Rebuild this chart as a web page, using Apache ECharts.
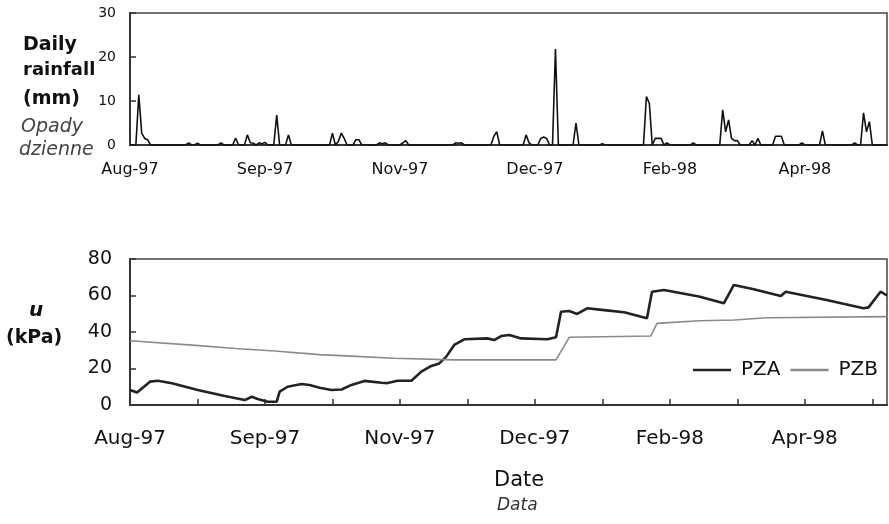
<!DOCTYPE html>
<html><head><meta charset="utf-8">
<script src="https://cdn.jsdelivr.net/npm/echarts@6/dist/echarts.min.js"></script>
<style>html,body{margin:0;padding:0;background:#fff}#c{width:889px;height:524px}</style>
</head><body><div id="c"></div>
<script>
// x values are day index from start of record (Aug-97); ticks every 23 days
const tickLabels = ['Aug-97','','Sep-97','','Nov-97','','Dec-97','','Feb-98','','Apr-98',''];

// Daily rainfall (mm)
const rainDay = [0,2,3,4,5,6,7,19,20,21,22,23,24,30,31,32,35,36,37,39,40,41,42,43,44,45,46,47,49,50,51,53,54,55,
  68,69,70,71,72,73,74,76,77,78,79,84,85,86,87,88,92,93,94,95,110,111,112,113,114,123,124,125,126,
  134,135,136,137,139,140,141,142,143,144,145,146,151,152,153,160,161,162,
  175,176,177,178,179,180,181,182,183,184,191,192,193,201,202,203,204,205,206,207,208,
  211,212,213,214,215,219,220,221,222,223,228,229,230,235,236,237,246,247,248,249,250,251,252,253,258];
const rainMm = [0,0,11.4,2.7,1.5,1.2,0,0,0.5,0,0,0.4,0,0,0.5,0,0,1.6,0,0,2.3,0.5,0.4,0,0.5,0.3,0.6,0,0,6.8,0,0,2.3,0,
  0,2.7,0,0.8,2.7,1.5,0,0,1.2,1.2,0,0,0.5,0.3,0.5,0,0,0.5,1,0,0,0.5,0.4,0.5,0,0,2,3,0,
  0,2.3,0.5,0,0,1.5,1.8,1.5,0,0,21.8,0,0,5,0,0,0.3,0,
  0,11,9.5,0,1.5,1.5,1.5,0,0.5,0,0,0.5,0,0,8,3,5.7,1.5,1,1,0,
  0,1,0,1.5,0,0,2,2,2,0,0,0.5,0,0,3.2,0,0,0.5,0,0,7.3,3,5.3,0,0];

// Pore water pressure u (kPa)
const pzaDay = [0,2.4,6.8,9.5,14.3,23.1,32.3,39.1,41.5,43.5,46.9,50,51,53.7,58.5,61.2,64.6,68.7,72.1,75.5,79.9,85.7,87.8,91.2,95.9,
  99.3,102.7,105.4,107.8,110.5,113.9,121.8,124.1,126.5,129.3,133.3,142.2,145.2,146.9,149.7,152.4,155.8,161.6,168.4,176.2,
  177.9,182,193.9,202.4,205.8,212.6,221.8,223.5,237.4,250,251.7,255.8,258];
const pzaKpa = [8.2,6.8,12.8,13.3,11.9,8.2,4.9,2.7,4.5,3.3,1.8,1.8,7.3,10,11.5,11,9.5,8.2,8.5,11,13.2,12.2,12,13.3,13.3,
  18.3,21.4,22.8,26.5,32.9,36,36.5,35.6,37.8,38.4,36.5,36,37.1,51.1,51.5,49.9,53,52,50.8,47.5,
  62.1,63,59.4,55.7,65.8,63.4,59.7,62.1,57.5,53,53.5,62.1,60];
const pzbDay = [0,21.2,36,49.3,64.6,75.5,90,110.5,145.2,149.7,177.5,179.6,194,206,217,258];
const pzbKpa = [35.2,32.8,31,29.6,27.6,26.8,25.6,24.7,24.7,37.1,37.8,44.7,46.2,46.6,47.8,48.4];

const zip = (a,b) => a.map((v,i)=>[v,b[i]]);
const FONT = 'DejaVu Sans';
const ink = '#111';

function xAxis(gridIndex, margin, ticks, fs){
  return {
    type:'value', gridIndex, min:0, max:258, interval:23,
    axisLine:{show:true, onZero:false, lineStyle:{color:'#333', width:2}},
    axisTick:{show:ticks, inside:true, length:6, lineStyle:{color:'#333', width:1.5}},
    splitLine:{show:false},
    axisLabel:{margin, fontFamily:FONT, fontSize:fs, color:ink, showMaxLabel:false,
      formatter: v => (v % 23 === 0 ? (tickLabels[v/23] || '') : '')}
  };
}
function yAxis(gridIndex, max, interval, fs, margin){
  return {
    type:'value', gridIndex, min:0, max, interval,
    axisLine:{show:true, lineStyle:{color:'#333', width:2}},
    axisTick:{show:true, inside:true, length:6, lineStyle:{color:'#333', width:1.5}},
    splitLine:{show:false},
    axisLabel:{margin, fontFamily:FONT, fontSize:fs, color:ink}
  };
}

const chart = echarts.init(document.getElementById('c'));
chart.setOption({
  animation:false,
  backgroundColor:'#fff',
  grid:[
    {left:130, top:13, width:757, height:132, show:true, borderColor:'#444', borderWidth:1.5, backgroundColor:'transparent'},
    {left:130, top:259, width:757, height:146, show:true, borderColor:'#444', borderWidth:1.5, backgroundColor:'transparent'}
  ],
  xAxis:[ xAxis(0, 17, false, 16), xAxis(1, 24, true, 20) ],
  yAxis:[ yAxis(0, 30, 10, 14, 14), yAxis(1, 80, 20, 19, 18) ],
  legend:{
    left:688, top:355, itemWidth:38, itemHeight:2.5, itemGap:10, icon:'rect',
    textStyle:{fontFamily:FONT, fontSize:20, color:ink, padding:[0,0,0,5]},
    data:['PZA','PZB']
  },
  series:[
    {name:'Rain', type:'line', xAxisIndex:0, yAxisIndex:0, data:zip(rainDay, rainMm),
      showSymbol:false, lineStyle:{color:'#111', width:1.6}, itemStyle:{color:'#111'}},
    {name:'PZA', type:'line', xAxisIndex:1, yAxisIndex:1, data:zip(pzaDay, pzaKpa),
      showSymbol:false, lineStyle:{color:'#222', width:2.6}, itemStyle:{color:'#222'}},
    {name:'PZB', type:'line', xAxisIndex:1, yAxisIndex:1, data:zip(pzbDay, pzbKpa),
      showSymbol:false, lineStyle:{color:'#8a8a8a', width:1.6}, itemStyle:{color:'#8a8a8a'}}
  ],
  graphic:[
    {type:'text', left:23, top:36, style:{text:'Daily', font:'bold 19px "DejaVu Sans"', fill:ink}},
    {type:'text', left:23, top:61, style:{text:'rainfall', font:'bold 18px "DejaVu Sans"', fill:ink}},
    {type:'text', left:23, top:90, style:{text:'(mm)', font:'bold 19px "DejaVu Sans"', fill:ink}},
    {type:'text', left:21, top:118, style:{text:'Opady', font:'italic 19px "DejaVu Sans"', fill:'#444'}},
    {type:'text', left:19, top:141, style:{text:'dzienne', font:'italic 19px "DejaVu Sans"', fill:'#444'}},
    {type:'text', left:29, top:301, style:{text:'u', font:'italic bold 20px "DejaVu Sans"', fill:ink}},
    {type:'text', left:6, top:329, style:{text:'(kPa)', font:'bold 19px "DejaVu Sans"', fill:ink}},
    {type:'text', left:494, top:470, style:{text:'Date', font:'21px "DejaVu Sans"', fill:ink}},
    {type:'text', left:497, top:497, style:{text:'Data', font:'italic 17px "DejaVu Sans"', fill:'#333'}}
  ]
});
</script></body></html>
